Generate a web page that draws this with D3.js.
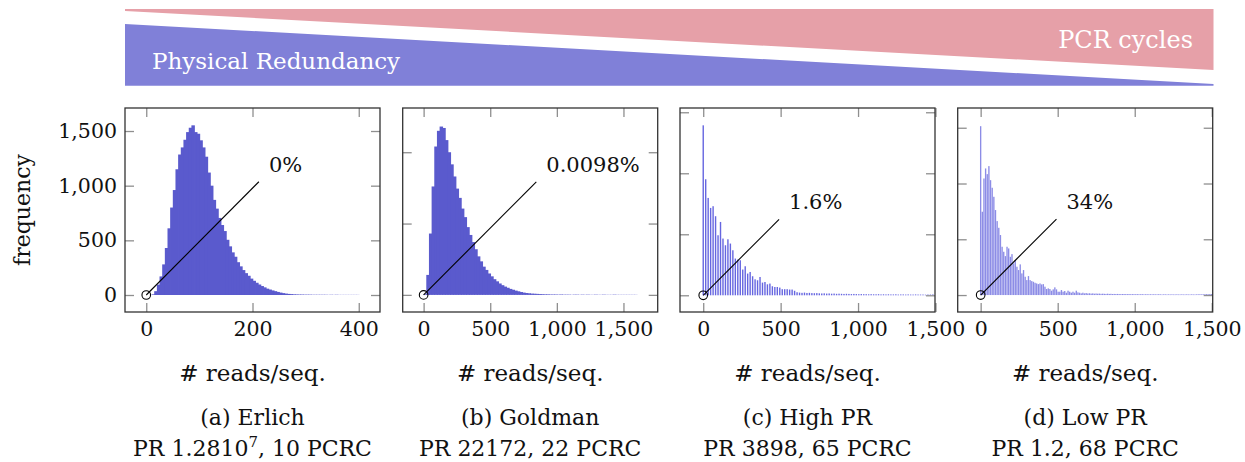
<!DOCTYPE html>
<html><head><meta charset="utf-8">
<script src="https://cdn.jsdelivr.net/npm/d3@7"></script>
<style>
body{margin:0;background:#fff}
svg{display:block}
text{font-family:"DejaVu Serif",serif;fill:#111}
</style>
</head><body>
<svg id="chart" width="1245" height="462"></svg>
<script>
// ---------------- DATA ----------------
// (a) Erlich: bins of 5 reads starting at 0
const erlichBinWidth = 5;
const erlichCounts = [0,0,6,35,95,170,280,430,610,800,960,1150,1285,1350,1420,1490,1530,1552,1490,1475,
  1415,1350,1265,1120,1000,870,790,705,640,585,505,445,390,350,300,262,228,200,176,150,
  130,112,96,82,70,58,50,42,35,28,22,17,13,10,8,6,5,4,4,3,
  3,3,2,2,2,2,2,2,1,2,1,2,1,1,1,1,1,1,1,1];
// (b) Goldman: bins of 20 reads
const goldmanBinWidth = 20;
const goldmanCounts = [5,140,430,760,1040,1150,1180,1170,1085,1000,915,830,745,680,605,545,475,420,370,320,
  270,235,198,175,150,130,110,95,80,68,58,50,42,36,30,25,20,16,13,11,
  9,8,7,6,5,4,4,3,3,3,2,3,2,2,2,1,2,2,1,2,
  1,2,1,1,2,1,1,2,1,1,1,2,1,1,1,1,1,1,1,1];
// (c) High PR: spikes every ~16 reads
const highPRBinWidth = 15.95;
const highPRCounts = [1393,951,798,716,730,648,492,601,465,410,459,424,369,301,293,287,211,238,178,191,
  156,131,123,150,104,109,90,96,74,68,68,63,50,50,50,47,47,37,25,
  22,20,22,19,20,18,17,18,16,15,16,14,15,13,14,12,13,12,11,12,
  11,10,11,10,9,10,9,9,8,9,8,8,9,7,8,7,8,7,7,8,
  6,7,7,6,7,6,6,7,6,6,6,5,6,6,7];
// (d) Low PR: bins of ~10.7 reads
const lowPRBinWidth = 10.7;
const lowPRCounts = [1514,747,1045,1135,1084,1156,1030,962,881,762,663,603,538,433,388,349,433,418,343,367,
  284,314,254,224,275,194,224,164,134,170,134,125,119,110,104,98,104,95,98,75,
  54,60,54,39,51,69,51,30,30,45,30,36,21,39,30,21,30,21,39,24,
  21,15,21,15,18,14,16,13,15,12,14,12,13,11,12,11,10,12,10,11,
  9,10,9,10,9,8,9,9,8,8,9,7,8,8,7,8,7,7,8,6,
  7,7,6,7,6,7,6,6,7,6,5,6,6,5,6,5,6,5,5,6,
  5,5,6,5,5,6,5,5,6,5,5,6,6,7,6,7,7,8,7,8,9];

const xTicksErlich = [0,200,400];
const xTicksWide = [0,500,1000,1500];
const yTicksErlich = [0,500,1000,1500];
const yTicksGoldman = [0,500,1000];
const yTicksPR = [0,500,1000,1500];

const percentLabels = ["0%","0.0098%","1.6%","34%"];
const pinX = [212,846,490,492];
const pinY = [1036,792,622,681];
const subTitles = ["(a) Erlich","(b) Goldman","(c) High PR","(d) Low PR"];
const prMain = ["PR 1.2810","PR 22172, 22 PCRC","PR 3898, 65 PCRC","PR 1.2, 68 PCRC"];
const xLabel = "# reads/seq.";
const yLabel = "frequency";
const bannerLabels = ["Physical Redundancy","PCR cycles"];

// ---------------- LAYOUT ----------------
const svg = d3.select("#chart");
const top0 = 108, bot0 = 312;
const panels = [
  {counts:erlichCounts, bw:erlichBinWidth, solid:true, x0:125, x1:380, xd:[-40,440], yd:[-155.5,1710.5], xt:xTicksErlich, yt:yTicksErlich, ylab:true},
  {counts:goldmanCounts, bw:goldmanBinWidth, solid:true, x0:402.7, x1:657.7, xd:[-157,1757], yd:[-120,1310], xt:xTicksWide, yt:yTicksGoldman, ylab:false},
  {counts:highPRCounts, bw:highPRBinWidth, solid:false, barPx:1.4, fill:"#6666e0", x0:680, x1:935, xd:[-150,1497], yd:[-137,1535], xt:xTicksWide, yt:yTicksPR, ylab:false},
  {counts:lowPRCounts, bw:lowPRBinWidth, solid:false, barPx:1.35, fill:"#8c8ce6", x0:957.7, x1:1212.7, xd:[-149,1506], yd:[-152,1677], xt:xTicksWide, yt:yTicksPR, ylab:false}
];

// ---------------- BANNER ----------------
const bx0 = 125, bx1 = 1213.5;
svg.append("polygon").attr("points",[[bx0,9],[bx1,9],[bx1,70],[bx0,11]].join(" ")).attr("fill","#e6a0a8");
svg.append("polygon").attr("points",[[bx0,24],[bx1,84],[bx1,85.7],[bx0,85.7]].join(" ")).attr("fill","#8080d8");
svg.append("text").attr("x",152).attr("y",69).attr("font-size",23).style("fill","#fff").text(bannerLabels[0]);
svg.append("text").attr("x",1193).attr("y",47.5).attr("text-anchor","end").attr("font-size",24).style("fill","#fff").text(bannerLabels[1]);

// ---------------- PANELS ----------------
const fmt = d3.format(",");
const tickLen = 9;
panels.forEach((p, k) => {
  const x = d3.scaleLinear().domain(p.xd).range([p.x0, p.x1]);
  const y = d3.scaleLinear().domain(p.yd).range([bot0, top0]);
  const g = svg.append("g");
  const clipId = "clip" + k;
  g.append("clipPath").attr("id", clipId).append("rect")
    .attr("x", p.x0).attr("y", top0).attr("width", p.x1 - p.x0).attr("height", bot0 - top0);
  const bars = g.append("g").attr("clip-path", `url(#${clipId})`);
  if (p.solid) {
    bars.selectAll("rect").data(p.counts).join("rect")
      .attr("x", (d, i) => x(i * p.bw))
      .attr("width", x(p.bw) - x(0) + 0.8)
      .attr("y", d => y(d))
      .attr("height", d => Math.max(0, y(0) - y(d)))
      .attr("fill", "#5a5acd");
  } else {
    bars.selectAll("rect").data(p.counts).join("rect")
      .attr("x", (d, i) => x(i * p.bw) - p.barPx / 2)
      .attr("width", p.barPx)
      .attr("y", d => y(d))
      .attr("height", d => Math.max(0.6, y(0) - y(d)))
      .attr("fill", p.fill);
  }

  // axes (ticks inward on all four sides)
  const styleAxis = sel => {
    sel.select(".domain").remove();
    sel.selectAll(".tick line").attr("stroke", "#8f8f8f").attr("stroke-width", 1.3);
    sel.selectAll(".tick text").attr("font-size", 20.5).attr("font-family", "DejaVu Serif").style("fill", "#111");
    sel.attr("font-size", null).attr("font-family", null);
  };
  g.append("g").attr("transform", `translate(0,${bot0})`)
    .call(d3.axisBottom(x).tickValues(p.xt).tickSize(-tickLen).tickPadding(9.5).tickFormat(fmt)).call(styleAxis);
  g.append("g").attr("transform", `translate(0,${top0})`)
    .call(d3.axisTop(x).tickValues(p.xt).tickSize(-tickLen).tickFormat("")).call(styleAxis);
  g.append("g").attr("transform", `translate(${p.x0},0)`)
    .call(d3.axisLeft(y).tickValues(p.yt).tickSize(-tickLen).tickPadding(8).tickFormat(p.ylab ? fmt : "")).call(styleAxis);
  g.append("g").attr("transform", `translate(${p.x1},0)`)
    .call(d3.axisRight(y).tickValues(p.yt).tickSize(-tickLen).tickFormat("")).call(styleAxis);

  g.append("rect").attr("x", p.x0).attr("y", top0).attr("width", p.x1 - p.x0).attr("height", bot0 - top0)
    .attr("fill", "none").attr("stroke", "#333").attr("stroke-width", 1.3);

  // annotation pin
  const px = x(pinX[k]), py = y(pinY[k]);
  g.append("line").attr("x1", x(0)).attr("y1", y(0)).attr("x2", px).attr("y2", py)
    .attr("stroke", "#000").attr("stroke-width", 1.1);
  g.append("circle").attr("cx", x(0)).attr("cy", y(0)).attr("r", 4.3)
    .attr("fill", "none").attr("stroke", "#000").attr("stroke-width", 1.1);
  g.append("text").attr("x", px + 10).attr("y", py - 10).attr("font-size", 21).text(percentLabels[k]);

  // labels
  const cx = (p.x0 + p.x1) / 2;
  g.append("text").attr("x", cx).attr("y", 381).attr("text-anchor", "middle").attr("font-size", 23).text(xLabel);
  g.append("text").attr("x", cx).attr("y", 425).attr("text-anchor", "middle").attr("font-size", 22).text(subTitles[k]);
  const t = g.append("text").attr("x", cx).attr("y", 456).attr("text-anchor", "middle").attr("font-size", 22);
  if (k === 0) {
    t.append("tspan").text(prMain[0]);
    t.append("tspan").attr("font-size", 15).attr("dy", -9).text("7");
    t.append("tspan").attr("dy", 9).text(", 10 PCRC");
  } else {
    t.text(prMain[k]);
  }
  if (p.ylab) {
    svg.append("text").attr("transform", `translate(30,${(top0 + bot0) / 2}) rotate(-90)`)
      .attr("text-anchor", "middle").attr("font-size", 22).text(yLabel);
  }
});
</script>
</body></html>
